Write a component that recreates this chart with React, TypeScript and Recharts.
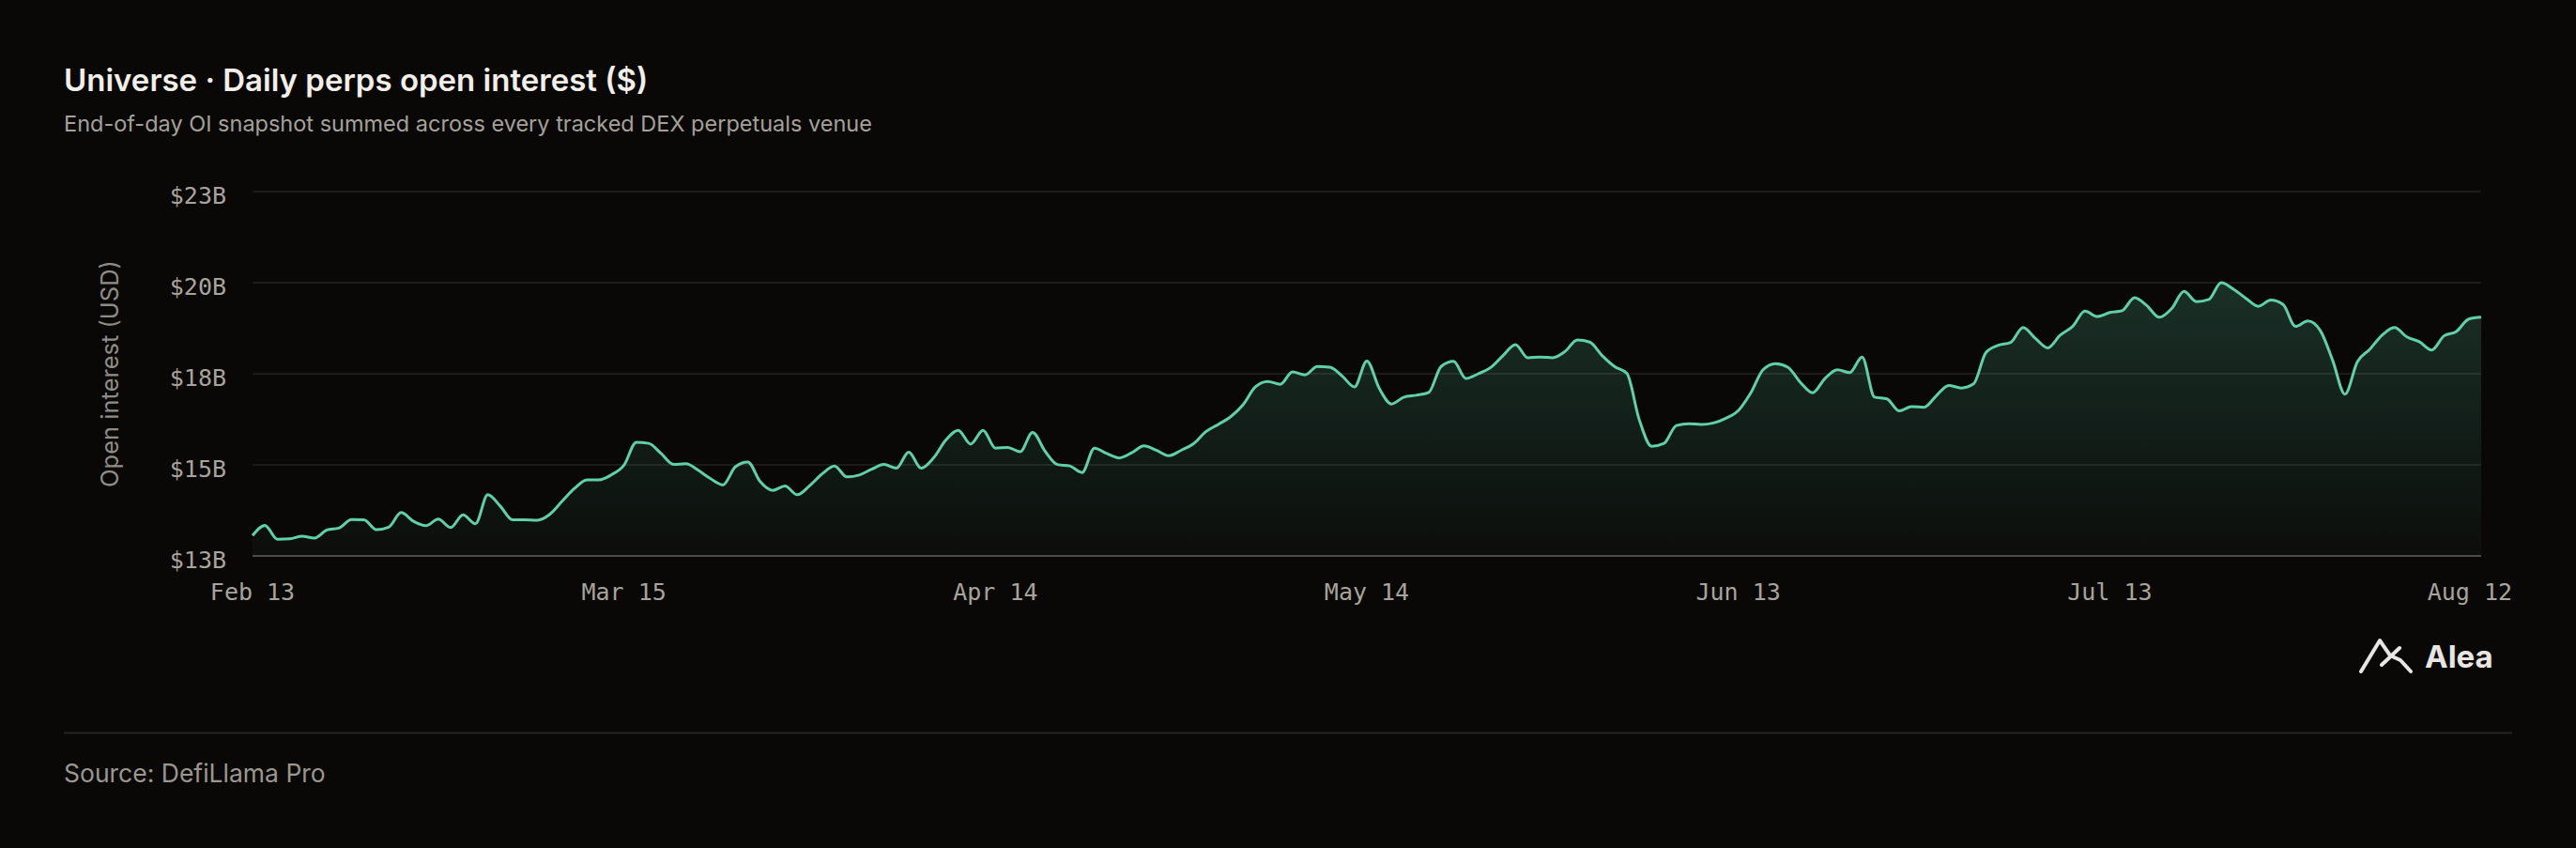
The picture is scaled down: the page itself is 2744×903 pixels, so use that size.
import { Area, AreaChart, CartesianGrid, XAxis, YAxis } from 'recharts';

// daily open interest, $B, Feb 13 -> Aug 12
const OI_BILLIONS = [
  13.06, 13.34, 12.96, 12.97, 13.04, 12.99, 13.21, 13.27, 13.5, 13.49,
  13.22, 13.29, 13.69, 13.45, 13.33, 13.51, 13.28, 13.63, 13.38, 14.18,
  13.87, 13.49, 13.49, 13.48, 13.64, 14.0, 14.35, 14.59, 14.59, 14.73,
  14.99, 15.62, 15.59, 15.31, 15.01, 15.03, 14.85, 14.62, 14.45, 14.95,
  15.08, 14.54, 14.3, 14.42, 14.18, 14.43, 14.75, 14.97, 14.67, 14.72,
  14.88, 15.01, 14.91, 15.35, 14.91, 15.19, 15.68, 15.95, 15.57, 15.95,
  15.46, 15.48, 15.36, 15.89, 15.38, 15.01, 14.97, 14.79, 15.46, 15.31,
  15.19, 15.33, 15.52, 15.4, 15.25, 15.4, 15.58, 15.91, 16.11, 16.32,
  16.65, 17.14, 17.29, 17.21, 17.55, 17.47, 17.7, 17.68, 17.44, 17.14,
  17.85, 17.1, 16.67, 16.86, 16.91, 16.99, 17.7, 17.84, 17.37, 17.5,
  17.67, 18.0, 18.3, 17.94, 17.96, 17.94, 18.11, 18.43, 18.37, 18.0,
  17.7, 17.51, 16.24, 15.51, 15.59, 16.08, 16.13, 16.11, 16.15, 16.28,
  16.49, 16.97, 17.61, 17.78, 17.68, 17.27, 16.98, 17.37, 17.61, 17.53,
  17.96, 16.86, 16.81, 16.48, 16.6, 16.58, 16.9, 17.18, 17.11, 17.22,
  18.08, 18.28, 18.36, 18.77, 18.47, 18.21, 18.56, 18.8, 19.22, 19.07,
  19.18, 19.23, 19.59, 19.37, 19.05, 19.29, 19.76, 19.48, 19.54, 20.0,
  19.82, 19.57, 19.35, 19.52, 19.4, 18.8, 18.95, 18.69, 17.87, 16.94,
  17.83, 18.17, 18.56, 18.77, 18.51, 18.38, 18.15, 18.54, 18.66, 19.0,
  19.05,
];

const X_TICK_DAYS = [0, 30, 60, 90, 120, 150, 180];
const X_TICK_LABELS = ['Feb 13', 'Mar 15', 'Apr 14', 'May 14', 'Jun 13', 'Jul 13', 'Aug 12'];
const Y_TICKS = [12.5, 15, 17.5, 20, 22.5];

const data = OI_BILLIONS.map((oi, day) => ({ day, oi }));

const BG = '#090807';
const LINE = '#5fd0aa';
const MONO = '"DejaVu Sans Mono", monospace';
const SANS = 'Inter, "Open Sans", sans-serif';

function XTick({ x, y, payload, index }: any) {
  const last = index === X_TICK_DAYS.length - 1;
  const label = X_TICK_LABELS[X_TICK_DAYS.indexOf(payload.value)];
  return (
    <text
      x={last ? x + 33 : x}
      y={y}
      dy={18}
      textAnchor={last ? 'end' : 'middle'}
      fill="#a8a49c"
      fontSize={25}
      fontFamily={MONO}
    >
      {label}
    </text>
  );
}

function YTick({ x, y, payload }: any) {
  return (
    <text x={x} y={y} dy={13} textAnchor="end" fill="#a8a49c" fontSize={25} fontFamily={MONO}>
      {`$${payload.value.toFixed(0)}B`}
    </text>
  );
}

function Logo() {
  return (
    <g stroke="#e8e6e2" strokeWidth={4} fill="none" strokeLinecap="round" strokeLinejoin="round">
      <polyline points="2515,715 2535,682 2546,698" />
      <line x1="2537" y1="708" x2="2556" y2="690" />
      <polyline points="2546,698 2557,703 2568,715" />
    </g>
  );
}

export default function App() {
  return (
    <div
      style={{
        position: 'fixed',
        left: 0,
        top: 0,
        width: 2744,
        height: 903,
        background: BG,
        overflow: 'hidden',
      }}
    >
      <svg width={2744} height={903} style={{ position: 'absolute', left: 0, top: 0 }}>
        <text x={68} y={97} fill="#f2efe9" fontSize={33} fontWeight={600} fontFamily={SANS}>
          Universe · Daily perps open interest ($)
        </text>
        <text x={68} y={140} fill="#a5a19a" fontSize={23.5} fontFamily={SANS}>
          End-of-day OI snapshot summed across every tracked DEX perpetuals venue
        </text>
        <text
          x={0}
          y={0}
          transform="translate(126 398) rotate(-90)"
          textAnchor="middle"
          fill="#8f8b85"
          fontSize={25.5}
          fontFamily={SANS}
        >
          Open interest (USD)
        </text>
        <Logo />
        <text x={2583} y={711} fill="#e8e6e2" fontSize={33} fontWeight={700} fontFamily={SANS}>
          Alea
        </text>
        <line x1={68} y1={780.5} x2={2676} y2={780.5} stroke="#262423" strokeWidth={2} />
        <text x={68} y={833} fill="#9b9790" fontSize={26.5} fontFamily={SANS}>
          Source: DefiLlama Pro
        </text>
      </svg>

      <div style={{ position: 'absolute', left: 0, top: 0 }}>
        <AreaChart
          width={2744}
          height={700}
          data={data}
          margin={{ top: 204, right: 101, bottom: 48, left: 0 }}
        >
          <defs>
            <linearGradient id="oiFill" x1="0" y1="0" x2="0" y2="1">
              <stop offset="0%" stopColor={LINE} stopOpacity={0.2} />
              <stop offset="100%" stopColor={LINE} stopOpacity={0.03} />
            </linearGradient>
          </defs>
          <CartesianGrid vertical={false} stroke="#242220" strokeWidth={1.5} />
          <XAxis
            dataKey="day"
            type="number"
            domain={[0, 180]}
            ticks={X_TICK_DAYS}
            interval={0}
            height={60}
            tickLine={false}
            tickSize={0}
            tickMargin={29}
            axisLine={{ stroke: '#4d4a47', strokeWidth: 2 }}
            tick={<XTick />}
          />
          <YAxis
            domain={[12.5, 22.5]}
            ticks={Y_TICKS}
            width={269}
            axisLine={false}
            tickLine={false}
            tickSize={0}
            tickMargin={28}
            tick={<YTick />}
          />
          <Area
            type="monotone"
            dataKey="oi"
            stroke={LINE}
            strokeWidth={3}
            fill="url(#oiFill)"
            fillOpacity={1}
            dot={false}
            activeDot={false}
            isAnimationActive={false}
          />
        </AreaChart>
      </div>
    </div>
  );
}
